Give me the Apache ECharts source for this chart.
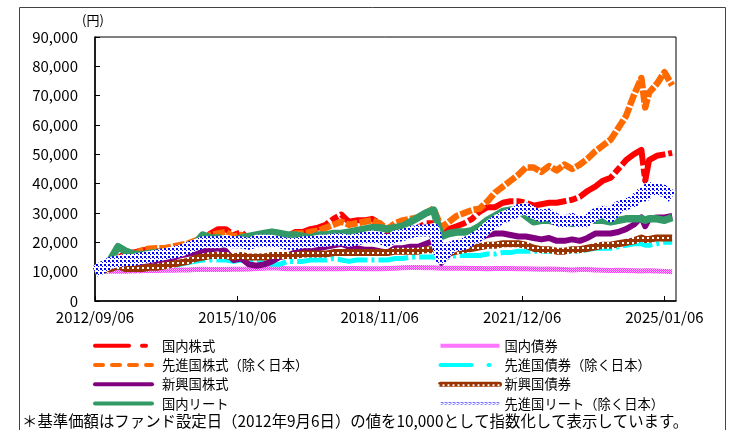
<!DOCTYPE html>
<html><head><meta charset="utf-8">
<script src="https://cdn.jsdelivr.net/npm/echarts@6/dist/echarts.min.js"></script>
<style>html,body{margin:0;padding:0;background:#fff}#c{width:730px;height:430px}</style>
</head><body><div id="c"></div>
<script>
// month index counted from 2012/09/06
const months = [0,2,4,6,8,10,12,14,16,18,20,22,24,26,28,30,32,34,36,38,40,42,44,46,48,50,52,54,56,58,60,62,64,66,68,70,72,74,76,78,80,82,84,86,88,90,92,94,96,98,100,102,104,106,108,110,112,114,116,118,120,122,124,126,128,130,132,134,136,138,140,142,143,144,146,148,150];
const tickMonths = [0,37,74,111,148];
const tickLabels = ['2012/09/06','2015/10/06','2018/11/06','2021/12/06','2025/01/06'];

const kokunaiKabu = [10000,11000,12500,14500,16500,16500,17200,17500,17000,16800,17000,18000,18500,19500,20500,23000,24500,24500,22500,23500,21000,20500,20500,20000,20500,22000,23500,23500,24500,25000,26000,28000,29500,27000,27500,27500,28000,26500,23500,24500,24000,24000,25000,26500,26500,22000,24500,25500,26500,28000,30500,32000,32000,33500,34000,34000,33500,32500,33000,33500,33500,34000,34500,35500,37500,39000,41000,42000,45000,48000,50000,51500,41000,48000,49500,50000,50500];
const kokunaiSaiken = [10000,10100,10200,10100,10100,10200,10300,10400,10400,10500,10500,10600,10600,10700,10800,10700,10700,10700,10800,10800,10900,11100,11200,11300,11200,11000,11000,11000,11000,11000,11000,11000,11000,11100,11100,11000,11000,11000,11100,11200,11300,11400,11400,11300,11300,11200,11200,11200,11200,11100,11100,11000,11100,11100,11100,11000,11000,10900,10800,10900,10800,10700,10600,10700,10700,10600,10500,10400,10500,10400,10300,10200,10300,10300,10200,10100,10000];
const senshinKabu = [10000,11000,12500,14000,15500,15500,17200,17800,18000,18000,18500,19000,19500,20500,21500,22500,23000,23500,22000,22500,21000,20500,21000,20000,21000,22000,23000,23000,23500,24000,25000,26000,27000,26000,26500,27000,27500,26500,24500,26500,27500,28000,28500,30000,31500,25000,27000,29000,30000,31000,31500,34000,37000,39000,41000,43000,45500,45500,44000,46000,44500,46500,45000,46500,48500,51000,53000,55000,59000,63000,70000,76000,66000,71000,74000,78000,73500];
const senshinSaiken = [10000,10500,11500,11500,12000,11500,11500,12000,12000,12000,12000,12500,13000,13500,14000,14000,14000,14000,13500,14000,13500,13000,13000,12500,12500,13500,13500,13500,14000,14000,14000,14500,14000,13500,14000,14000,14000,14000,14000,14500,14500,15000,15000,15000,15000,14500,15000,15500,15500,15500,15500,16000,16000,16500,16500,17000,17000,17000,17000,17000,17000,17000,17000,17000,17500,18000,18000,18000,18500,19000,19500,19500,19000,19000,19500,20000,20000];
const shinkoKabu = [10000,11500,13500,13500,13500,12500,13000,13500,13000,13500,14500,15500,16000,16500,17000,17500,18000,17000,14000,14500,12500,12000,12500,13500,15000,15500,16500,17000,17500,18000,18500,19000,19500,18500,18000,17500,17500,17000,16500,18000,18000,18500,18500,19500,20500,13000,16000,17500,18000,19500,21500,22500,23000,23000,22500,22000,22000,21500,21000,21500,20500,20500,21000,20500,21500,23000,23000,23000,23500,24500,26000,28500,25500,28000,28500,28500,29000];
const shinkoSaiken = [10000,10500,11000,12000,11000,11000,11000,11500,11500,12000,12500,13000,13500,14500,15000,15500,15500,15500,15000,15500,15000,15000,15000,15500,15500,15500,15500,16000,16000,16000,16000,16500,16500,16500,16500,16500,16500,16500,16500,17000,17000,17000,17000,17500,17500,15500,16500,17000,17500,18000,18500,19000,19000,19500,19500,19500,19000,18000,17500,17500,17000,17000,17500,17500,18000,18500,19000,19000,19500,20000,20500,21500,21000,21000,21500,21500,21500];
const kokunaiReit = [10000,11200,14000,18500,17000,16000,15800,16200,16500,16500,17000,17500,18500,19500,22500,21500,21500,21000,20500,21500,22000,22500,23000,23500,23000,22500,22500,22000,21500,22500,22500,23000,23000,23500,24000,24500,25000,25000,24500,25000,25500,27000,28500,30000,31000,22000,23000,23500,23500,24000,25500,27500,29000,30500,31000,31000,29000,27000,27500,27500,27000,27000,26500,27000,27500,27500,27500,27000,27500,28000,28000,28000,27500,28000,28000,27500,28500];
const senshinReit = [10000,11500,13000,13500,14000,14000,14500,15000,15500,16000,16500,17000,18000,19000,20000,20000,20000,20500,20000,20000,19500,20500,20500,20500,20000,19500,19500,20000,20000,20500,20500,21000,21000,20500,21000,21500,22000,21500,20500,22000,22500,23500,24000,24000,24500,14500,18000,19000,19500,21000,22500,25000,27000,28500,29500,31000,31500,30000,29000,29500,27500,27000,28000,27000,27500,29500,30500,29000,32000,33000,34000,36500,36000,38500,38000,37500,35500];

const yTicks = [0,10000,20000,30000,40000,50000,60000,70000,80000,90000];

const FONT = "'Noto Sans CJK JP', 'Noto Sans', sans-serif";

function pattern(w, h, bg, fg, dots) {
  const c = document.createElement('canvas');
  c.width = w; c.height = h;
  const g = c.getContext('2d');
  g.fillStyle = bg; g.fillRect(0, 0, w, h);
  g.fillStyle = fg;
  dots.forEach(d => g.fillRect(d[0], d[1], d[2], d[3]));
  return { image: c, repeat: 'repeat' };
}
const bluePat = pattern(4, 4, '#ffffff', '#0000ff', [[0,0,2,2],[2,2,1,1]]);
const pinkPat = pattern(2, 2, '#ffb8ff', '#ff33ff', [[0,0,1,1],[1,1,1,1]]);
const brownPat = pattern(5, 5, '#993300', '#ffffff', [[2,2,2,2]]);

const pair = arr => months.map((m, i) => [m, arr[i]]);

const defs = [
  { name: '国内株式', data: kokunaiKabu, color: '#ff0000', ls: { color: '#ff0000', width: 6, type: [40,3,8,3] }, lg: { color: '#ff0000', width: 4, type: [34,13,4,30], cap: 'round' } },
  { name: '国内債券', data: kokunaiSaiken, color: '#ff44ff', ls: { color: pinkPat, width: 5 }, lg: { color: pinkPat, width: 4 } },
  { name: '先進国株式（除く日本）', data: senshinKabu, color: '#ff6a00', ls: { color: '#ff6a00', width: 6.5, type: [12,2] }, lg: { color: '#ff6a00', width: 4, type: [8,9], cap: 'round' } },
  { name: '先進国債券（除く日本）', data: senshinSaiken, color: '#00ffff', ls: { color: '#00ffff', width: 5, type: [30,4,3,4] }, lg: { color: '#00ffff', width: 4, type: [31,17,1,30], cap: 'round' } },
  { name: '新興国株式', data: shinkoKabu, color: '#800080', ls: { color: '#800080', width: 6 }, lg: { color: '#800080', width: 4, cap: 'round' } },
  { name: '新興国債券', data: shinkoSaiken, color: '#993300', ls: { color: brownPat, width: 7 }, lg: { color: brownPat, width: 5, cap: 'round' } },
  { name: '国内リート', data: kokunaiReit, color: '#339966', ls: { color: '#339966', width: 7.5 }, lg: { color: '#339966', width: 4, cap: 'round' } },
  { name: '先進国リート（除く日本）', data: senshinReit, color: '#0000ff', ls: { color: bluePat, width: 12 }, lg: { color: bluePat, width: 3 } }
];

const series = defs.map(d => ({
  name: d.name, type: 'line', data: pair(d.data), symbol: 'none', showSymbol: false,
  itemStyle: { color: d.color },
  lineStyle: Object.assign({ join: 'round' }, d.ls),
  emphasis: { disabled: true }, silent: true
}));
const lgItem = n => {
  const d = defs.find(x => x.name === n);
  return { name: n, lineStyle: d.lg, itemStyle: { color: 'rgba(0,0,0,0)', borderColor: 'rgba(0,0,0,0)', borderWidth: 0, opacity: 0 } };
};

const leftNames = ['国内株式','先進国株式（除く日本）','新興国株式','国内リート'];
const rightNames = ['国内債券','先進国債券（除く日本）','新興国債券','先進国リート（除く日本）'];

const chart = echarts.init(document.getElementById('c'), null, { renderer: 'canvas' });
chart.setOption({
  animation: false,
  backgroundColor: '#ffffff',
  textStyle: { fontFamily: FONT },
  grid: { left: 95, top: 37, width: 581, height: 264, show: true, borderColor: '#000', borderWidth: 1 },
  xAxis: {
    type: 'value', min: 0, max: 151, interval: 37,
    axisLine: { show: true, lineStyle: { color: '#000', width: 1.5 } },
    axisTick: { show: true, inside: true, length: 5, lineStyle: { color: '#000' } },
    splitLine: { show: false },
    axisLabel: { color: '#000', fontSize: 15, fontFamily: FONT, margin: 9, showMinLabel: true, showMaxLabel: false,
      formatter: v => { const i = tickMonths.indexOf(v); return i >= 0 ? tickLabels[i] : ''; } }
  },
  yAxis: {
    type: 'value', min: 0, max: 90000, interval: 10000,
    axisLine: { show: true, lineStyle: { color: '#000', width: 1.5 } },
    axisTick: { show: true, inside: true, length: 5, lineStyle: { color: '#000' } },
    splitLine: { show: false },
    axisLabel: { color: '#000', fontSize: 15, fontFamily: FONT, margin: 17,
      formatter: v => yTicks.indexOf(v) >= 0 ? v.toLocaleString('en-US') : '' }
  },
  legend: [
    { left: 93, top: 339, padding: 0, orient: 'vertical', itemWidth: 57, itemHeight: 14, itemGap: 6, selectedMode: false,
      textStyle: { color: '#000', fontSize: 13.3, fontFamily: FONT, padding: [0,0,0,5] }, data: leftNames.map(lgItem) },
    { left: 438, top: 339, padding: 0, orient: 'vertical', itemWidth: 59, itemHeight: 14, itemGap: 6, selectedMode: false,
      textStyle: { color: '#000', fontSize: 13.3, fontFamily: FONT }, data: rightNames.map(lgItem) }
  ],
  graphic: [
    { type: 'rect', shape: { x: 19.5, y: 7.5, width: 706, height: 440 }, style: { fill: 'none', stroke: '#444', lineWidth: 1 }, silent: true },
    { type: 'text', left: 82, top: 14, style: { text: '(円)', font: '13px ' + FONT, fill: '#000' } },
    { type: 'text', left: 22, top: 413, style: { text: '＊基準価額はファンド設定日（2012年9月6日）の値を10,000として指数化して表示しています。', font: '15.4px ' + FONT, fill: '#000' } }
  ],
  series: series
});
</script></body></html>
